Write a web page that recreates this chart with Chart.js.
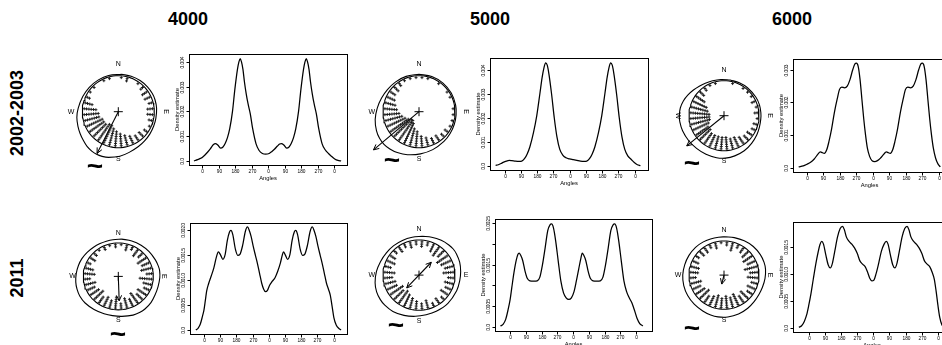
<!DOCTYPE html>
<html>
<head>
<meta charset="utf-8">
<script src="https://cdn.jsdelivr.net/npm/chart.js"></script>
<style>
  html, body { margin: 0; padding: 0; background: #fff; width: 942px; height: 345px; overflow: hidden; position: relative; }
  canvas { position: absolute; left: 0; top: 0; }
  .lbl { position: absolute; font-family: "Liberation Sans", Arial, sans-serif; font-weight: bold; color: #000; white-space: nowrap; font-size: 18px; line-height: 1; }
</style>
</head>
<body>
<div class="lbl" style="left:188px;top:19px;transform:translate(-50%,-50%)">4000</div>
<div class="lbl" style="left:490px;top:19px;transform:translate(-50%,-50%)">5000</div>
<div class="lbl" style="left:792px;top:19px;transform:translate(-50%,-50%)">6000</div>
<div class="lbl" style="left:17px;top:113px;transform:translate(-50%,-50%) rotate(-90deg)">2002-2003</div>
<div class="lbl" style="left:17px;top:278px;transform:translate(-50%,-50%) rotate(-90deg)">2011</div>
<script>
// ---------- data ----------
const xTickValues = [0, 90, 180, 270, 360, 450, 540, 630, 720];
const xTickLabels = ['0', '90', '180', '270', '0', '90', '180', '270', '0'];

// kernel density estimates over two turns: [angle (deg), density]
const dens0203_4000 = [[-45,0],[-25,0.00005],[-10,0.0001],[0,0.00014],[15,0.00024],[30,0.00036],[45,0.0005],[60,0.00065],[72,0.0007],[85,0.00064],[100,0.00052],[112,0.00055],[125,0.0007],[138,0.00095],[150,0.0013],[165,0.002],[178,0.0029],[192,0.0037],[200,0.004],[207,0.00413],[214,0.004],[222,0.0037],[230,0.0032],[240,0.0027],[250,0.0023],[262,0.0019],[275,0.0013],[293,0.0007],[310,0.00042],[328,0.0003],[345,0.00027],[365,0.0003],[380,0.00038],[395,0.00048],[410,0.0006],[422,0.00068],[432,0.0007],[445,0.00064],[460,0.00052],[472,0.00055],[485,0.0007],[498,0.00095],[510,0.0013],[525,0.002],[538,0.0029],[552,0.0037],[560,0.004],[567,0.00413],[574,0.004],[582,0.0037],[590,0.0032],[600,0.0027],[610,0.0023],[622,0.0019],[635,0.0013],[653,0.0007],[670,0.00045],[688,0.0003],[705,0.00018],[722,0.00008],[740,0.00002],[757,0]];
const dens0203_5000 = [[-50,0.00002],[-35,0.00005],[-20,0.0001],[-5,0.00016],[10,0.0002],[25,0.00023],[40,0.00022],[60,0.0002],[80,0.00019],[95,0.0002],[110,0.0003],[125,0.0005],[140,0.0008],[160,0.0014],[178,0.0021],[195,0.003],[208,0.0037],[218,0.0041],[227,0.0043],[236,0.0042],[246,0.0038],[260,0.003],[275,0.002],[290,0.0012],[305,0.0007],[322,0.00045],[340,0.00034],[360,0.00029],[380,0.00026],[400,0.00023],[420,0.0002],[440,0.00019],[455,0.0002],[470,0.0003],[485,0.0005],[500,0.0008],[520,0.0014],[538,0.0021],[555,0.003],[568,0.0037],[578,0.0041],[587,0.0043],[596,0.0042],[606,0.0038],[620,0.003],[635,0.002],[650,0.0012],[665,0.0007],[682,0.00042],[700,0.00028],[718,0.00014],[735,0.00005],[752,0.00001]];
const dens0203_6000 = [[-45,0.00003],[-20,0.00006],[0,0.00011],[20,0.00017],[40,0.00027],[60,0.00042],[73,0.00049],[85,0.00046],[95,0.00044],[108,0.00055],[120,0.0008],[135,0.0012],[150,0.0017],[165,0.0021],[178,0.0024],[190,0.00247],[205,0.00245],[220,0.0025],[235,0.0027],[250,0.003],[262,0.00318],[270,0.0032],[280,0.0031],[290,0.0027],[300,0.0021],[310,0.0015],[320,0.001],[330,0.0006],[342,0.00035],[355,0.00022],[370,0.00019],[385,0.00022],[400,0.00029],[420,0.00042],[433,0.00049],[445,0.00046],[455,0.00044],[468,0.00055],[480,0.0008],[495,0.0012],[510,0.0017],[525,0.0021],[538,0.0024],[550,0.00247],[565,0.00245],[580,0.0025],[595,0.0027],[610,0.003],[622,0.00318],[630,0.0032],[640,0.0031],[650,0.0027],[660,0.0021],[670,0.0015],[680,0.001],[690,0.0006],[702,0.0003],[715,0.00012],[728,0.00003]];
const dens2011_4000 = [[-45,0],[-32,0.00004],[-20,0.00012],[-8,0.00028],[0,0.0004],[8,0.0006],[15,0.00078],[25,0.00092],[40,0.00108],[55,0.00125],[68,0.00145],[80,0.00157],[92,0.00151],[105,0.00142],[118,0.00152],[130,0.0018],[142,0.00197],[150,0.002],[160,0.00192],[175,0.00162],[188,0.0015],[200,0.00152],[215,0.0017],[230,0.00198],[242,0.00207],[252,0.002],[262,0.00188],[274,0.00168],[286,0.0015],[297,0.00134],[309,0.00114],[321,0.00094],[332,0.00082],[342,0.00077],[352,0.00079],[365,0.0009],[380,0.00098],[395,0.00105],[410,0.00118],[425,0.00135],[435,0.0015],[442,0.00157],[452,0.00151],[465,0.00142],[478,0.00152],[490,0.0018],[502,0.00197],[510,0.002],[520,0.00192],[535,0.00162],[548,0.0015],[560,0.00152],[575,0.0017],[590,0.00198],[602,0.00207],[612,0.002],[622,0.00188],[634,0.00168],[646,0.0015],[657,0.00134],[669,0.00114],[681,0.00094],[692,0.00082],[702,0.0007],[712,0.00048],[722,0.00025],[735,0.0001],[750,0.00003],[762,0]];
const dens2011_5000 = [[-55,0.00002],[-40,0.00006],[-25,0.00018],[-12,0.0004],[0,0.00065],[10,0.00095],[22,0.0013],[35,0.0016],[45,0.00175],[52,0.00178],[60,0.00173],[72,0.0016],[85,0.00135],[98,0.00117],[113,0.00111],[135,0.0011],[155,0.00111],[170,0.0012],[185,0.0015],[200,0.0019],[215,0.00232],[228,0.00246],[237,0.00248],[248,0.00238],[260,0.00208],[275,0.00158],[290,0.0011],[305,0.00082],[320,0.0007],[335,0.00066],[350,0.0007],[365,0.00085],[378,0.0011],[392,0.0014],[404,0.00165],[412,0.00178],[420,0.00173],[432,0.0016],[445,0.00135],[458,0.00117],[473,0.00111],[495,0.0011],[515,0.00111],[530,0.0012],[545,0.0015],[560,0.0019],[575,0.00232],[588,0.00246],[597,0.00248],[608,0.00238],[620,0.00208],[635,0.00158],[650,0.0011],[665,0.00085],[680,0.0007],[695,0.00058],[710,0.0004],[725,0.0002],[740,0.00008],[758,0.00002]];
const dens2011_6000 = [[-55,0.00001],[-40,0.00004],[-25,0.00012],[-12,0.00024],[0,0.00042],[12,0.00063],[25,0.0009],[40,0.0012],[52,0.0014],[62,0.00154],[72,0.0016],[82,0.00155],[95,0.00135],[108,0.00117],[120,0.00111],[132,0.0012],[145,0.00142],[160,0.00168],[175,0.00184],[188,0.00188],[198,0.00182],[210,0.00168],[225,0.0016],[240,0.00155],[255,0.00148],[270,0.00138],[285,0.00124],[300,0.00118],[315,0.00113],[328,0.00103],[340,0.00092],[352,0.00087],[362,0.00088],[375,0.001],[390,0.0012],[405,0.00142],[420,0.00155],[432,0.0016],[442,0.00155],[455,0.00135],[468,0.00117],[480,0.00111],[492,0.0012],[505,0.00142],[520,0.00168],[535,0.00184],[548,0.00188],[558,0.00182],[570,0.00168],[585,0.0016],[600,0.00155],[615,0.00148],[630,0.00138],[645,0.00124],[660,0.00118],[675,0.00113],[688,0.00103],[700,0.0009],[710,0.00068],[720,0.00042],[730,0.0002],[742,0.00006],[755,0.00001]];

// y axis ticks and their printed labels
const yTicks0203_4000 = [0, 0.001, 0.002, 0.003, 0.004];
const yLabels0203_4000 = ['0.0', '0.001', '0.002', '0.003', '0.004'];
const yTicks0203_5000 = [0, 0.001, 0.002, 0.003, 0.004];
const yLabels0203_5000 = ['0.0', '0.001', '0.002', '0.003', '0.004'];
const yTicks0203_6000 = [0, 0.001, 0.002, 0.003];
const yLabels0203_6000 = ['0.0', '0.001', '0.002', '0.003'];
const yTicks2011_4000 = [0, 0.0005, 0.001, 0.0015, 0.002];
const yLabels2011_4000 = ['0.0', '0.0005', '0.0010', '0.0015', '0.0020'];
const yTicks2011_5000 = [0, 0.0005, 0.001, 0.0015, 0.002, 0.0025];
const yLabels2011_5000 = ['0.0', '0.0005', '', '0.0015', '', '0.0025'];
const yTicks2011_6000 = [0, 0.0005, 0.001, 0.0015];
const yLabels2011_6000 = ['0.0', '0.0005', '0.0010', '0.0015'];

// observations per 10-degree bearing bin (0-10, 10-20, ... 350-360), stacked inside the circle
const stack0203_4000 = [1,2,0,1,2,3,3,2,3,3,2,1,2,3,3,4,5,6,7,8,9,9,8,8,8,7,7,6,4,2,1,1,0,1,1,0];
const stack0203_5000 = [1,1,0,1,0,1,1,0,1,1,1,1,2,2,3,3,4,5,7,8,10,11,11,10,9,8,7,6,5,4,3,3,2,1,1,1];
const stack0203_6000 = [0,1,0,1,1,1,2,1,2,1,2,2,3,3,4,5,5,6,6,6,6,6,7,7,8,9,9,9,8,7,5,3,2,1,1,0];
const stack2011_4000 = [1,3,2,4,3,5,4,5,3,6,4,3,5,4,6,4,5,3,6,4,5,4,6,5,4,5,3,5,4,2,3,2,1,2,1,2];
const stack2011_5000 = [3,2,4,5,4,6,5,4,5,3,4,3,4,2,3,2,4,3,4,5,6,7,6,7,5,5,4,5,3,4,3,2,3,2,3,2];
const stack2011_6000 = [2,4,2,3,4,5,4,6,4,5,3,4,3,5,4,6,5,6,5,6,5,4,6,5,4,5,3,4,4,3,2,3,3,2,3,1];

// mean direction arrows (bearing in degrees, length in circle radii)
const arrowBearing = [207, 230, 231, 178, 43, 194];
const arrowLength = [1.3, 1.65, 1.37, 0.73, 0.5, 0.27];
const arrowTwoHeaded = [false, false, false, false, true, false];

// ---------- layout ----------
const canvasW = 1000, canvasH = 345;
const FONT = '"Liberation Sans", Arial, Helvetica, sans-serif';
const BIN_DEG = 10;

const panels = [
  { dens: dens0203_4000, yTicks: yTicks0203_4000, yLabels: yLabels0203_4000, stack: stack0203_4000,
    box: [189, 54, 347, 165], xRange: [-72, 789], yRange: [-0.000166, 0.00432],
    circ: { cx: 118.3, cy: 111.7, r: 36, k: 75, rotE: true, rotW: false }, tilde: [95, 166] },
  { dens: dens0203_5000, yTicks: yTicks0203_5000, yLabels: yLabels0203_5000, stack: stack0203_5000,
    box: [490, 58, 648, 170], xRange: [-81, 794], yRange: [-0.00017, 0.0045],
    circ: { cx: 419, cy: 111.7, r: 36, k: 72, rotE: true, rotW: false }, tilde: [392, 160] },
  { dens: dens0203_6000, yTicks: yTicks0203_6000, yLabels: yLabels0203_6000, stack: stack0203_6000,
    box: [793, 59, 946, 172], xRange: [-76, 759], yRange: [-0.000128, 0.00333],
    circ: { cx: 724, cy: 115.7, r: 35, k: 80, rotE: true, rotW: true }, tilde: [692, 163] },
  { dens: dens2011_4000, yTicks: yTicks2011_4000, yLabels: yLabels2011_4000, stack: stack2011_4000,
    box: [190, 223, 347, 334], xRange: [-77.5, 795], yRange: [-0.00008, 0.00215],
    circ: { cx: 118.3, cy: 279.3, r: 35, k: 110, rotE: true, rotW: false }, tilde: [118, 334] },
  { dens: dens2011_5000, yTicks: yTicks2011_5000, yLabels: yLabels2011_5000, stack: stack2011_5000,
    box: [495, 219, 652, 331], xRange: [-86, 810], yRange: [-0.0001, 0.0026],
    circ: { cx: 419, cy: 276.7, r: 36, k: 105, rotE: false, rotW: false }, tilde: [396, 325] },
  { dens: dens2011_6000, yTicks: yTicks2011_6000, yLabels: yLabels2011_6000, stack: stack2011_6000,
    box: [793, 222, 951, 332], xRange: [-88, 793], yRange: [-0.000076, 0.00196],
    circ: { cx: 724, cy: 276.7, r: 35, k: 115, rotE: true, rotW: false }, tilde: [692, 328] }
];

function makeCanvas() {
  const c = document.createElement('canvas');
  c.width = canvasW; c.height = canvasH;
  c.style.width = canvasW + 'px'; c.style.height = canvasH + 'px';
  document.body.appendChild(c);
  return c;
}

// frame, ticks and titles of a density panel, placed with the chart's scales
const densityAxes = {
  id: 'densityAxes',
  afterDraw(chart, args, o) {
    const { ctx, chartArea: a, scales: { x, y } } = chart;
    ctx.save();
    ctx.strokeStyle = '#000';
    ctx.fillStyle = '#000';
    ctx.lineWidth = 1;
    ctx.strokeRect(a.left + 0.5, a.top + 0.5, a.right - a.left, a.bottom - a.top);
    ctx.textAlign = 'center';
    ctx.textBaseline = 'middle';
    ctx.font = '4.8px ' + FONT;
    o.xTicks.forEach((v, i) => {
      const px = Math.round(x.getPixelForValue(v)) + 0.5;
      ctx.beginPath(); ctx.moveTo(px, a.bottom + 0.5); ctx.lineTo(px, a.bottom + 3.5); ctx.stroke();
      ctx.fillText(o.xLabels[i], px, a.bottom + 7);
    });
    o.yTicks.forEach((v, i) => {
      const py = Math.round(y.getPixelForValue(v)) + 0.5;
      ctx.beginPath(); ctx.moveTo(a.left - 2.5, py); ctx.lineTo(a.left + 0.5, py); ctx.stroke();
      if (o.yLabels[i]) {
        ctx.save(); ctx.translate(a.left - 6, py); ctx.rotate(-Math.PI / 2);
        ctx.fillText(o.yLabels[i], 0, 0); ctx.restore();
      }
    });
    ctx.font = '5.8px ' + FONT;
    ctx.save(); ctx.translate(a.left - 12, (a.top + a.bottom) / 2); ctx.rotate(-Math.PI / 2);
    ctx.fillText('Density estimate', 0, 0); ctx.restore();
    ctx.fillText('Angles', (a.left + a.right) / 2, a.bottom + 13);
    ctx.restore();
  }
};

function densityChart(p) {
  const [l, t, r, b] = p.box;
  new Chart(makeCanvas(), {
    type: 'scatter',
    data: { datasets: [{
      data: p.dens.map(([ang, v]) => ({ x: ang, y: v })),
      showLine: true, borderColor: '#000', borderWidth: 1.25, pointRadius: 0,
      cubicInterpolationMode: 'monotone', fill: false, clip: false
    }] },
    options: {
      responsive: false, animation: false, devicePixelRatio: 1,
      layout: { padding: { left: l, top: t, right: canvasW - r, bottom: canvasH - b } },
      scales: {
        x: { type: 'linear', display: false, min: p.xRange[0], max: p.xRange[1] },
        y: { type: 'linear', display: false, min: p.yRange[0], max: p.yRange[1] }
      },
      plugins: {
        legend: { display: false }, tooltip: { enabled: false },
        densityAxes: { xTicks: xTickValues, xLabels: xTickLabels, yTicks: p.yTicks, yLabels: p.yLabels }
      }
    },
    plugins: [densityAxes]
  });
}

// compass letters, arrow heads and the tilde mark of a circular panel
const compassDecor = {
  id: 'compassDecor',
  afterDatasetsDraw(chart, args, o) {
    const { ctx, scales: { x, y } } = chart;
    const P = (ux, uy) => [x.getPixelForValue(ux), y.getPixelForValue(uy)];
    ctx.save();
    ctx.strokeStyle = '#000'; ctx.fillStyle = '#000'; ctx.lineWidth = 1;
    const head = (from, to) => {
      const [fx, fy] = P(from.x, from.y), [tx, ty] = P(to.x, to.y);
      const ang = Math.atan2(ty - fy, tx - fx), hl = 6, hw = 0.45;
      ctx.beginPath();
      ctx.moveTo(tx - hl * Math.cos(ang - hw), ty - hl * Math.sin(ang - hw));
      ctx.lineTo(tx, ty);
      ctx.lineTo(tx - hl * Math.cos(ang + hw), ty - hl * Math.sin(ang + hw));
      ctx.stroke();
    };
    head(o.tail, o.tip);
    if (o.twoHeaded) head(o.tip, o.tail);

    ctx.font = '7px ' + FONT;
    ctx.textAlign = 'center'; ctx.textBaseline = 'middle';
    const d = 1.31;
    [['N', 0, d, false], ['S', 0, -d, false], ['W', -d, 0, o.rotW], ['E', d, 0, o.rotE]].forEach(([s, ux, uy, rot]) => {
      const [px, py] = P(ux, uy);
      ctx.save(); ctx.translate(px, py); if (rot) ctx.rotate(Math.PI / 2);
      ctx.fillText(s, 0, 0); ctx.restore();
    });

    ctx.font = 'bold 28px ' + FONT;
    ctx.textBaseline = 'alphabetic';
    ctx.fillText('~', o.tilde[0], o.tilde[1] + 9);
    ctx.restore();
  }
};

function compassChart(p, idx) {
  const c = p.circ, half = 66, R = half / c.r;
  const rad = Math.PI / 180;

  const circle = [];
  for (let a = 0; a <= 360; a += 4) circle.push({ x: Math.sin(a * rad), y: Math.cos(a * rad) });

  // density drawn around the circle from one full turn of the estimate
  const ring = p.dens.filter(([a]) => a >= 180 && a < 540)
    .map(([a, v]) => [a % 360, v]).sort((m, n) => m[0] - n[0]);
  const outline = ring.map(([a, v]) => {
    const rr = 1.02 + c.k * v;
    return { x: rr * Math.sin(a * rad), y: rr * Math.cos(a * rad) };
  });
  outline.push(outline[0]);

  const dots = [];
  p.stack.forEach((n, i) => {
    const b = (i + 0.5) * BIN_DEG * rad;
    for (let k = 0; k < n; k++) {
      const rr = 0.95 - k * 0.065;
      dots.push({ x: rr * Math.sin(b), y: rr * Math.cos(b) });
    }
  });

  const br = arrowBearing[idx] * rad, L = arrowLength[idx];
  const tip = { x: L * Math.sin(br), y: L * Math.cos(br) };
  const tail = arrowTwoHeaded[idx] ? { x: -tip.x, y: -tip.y } : { x: 0, y: 0 };

  const line = (data, extra) => Object.assign({ data, showLine: true, borderColor: '#000', borderWidth: 1.1,
    pointRadius: 0, fill: false, clip: false }, extra || {});

  new Chart(makeCanvas(), {
    type: 'scatter',
    data: { datasets: [
      line(circle, { tension: 0 }),
      line(outline, { tension: 0.35 }),
      { data: dots, showLine: false, pointStyle: 'cross', pointRadius: 1.5, borderWidth: 0.9,
        borderColor: '#111', backgroundColor: '#111', clip: false },
      { data: [{ x: 0, y: 0 }], showLine: false, pointStyle: 'cross', pointRadius: 4.5, borderWidth: 1,
        borderColor: '#000', clip: false },
      line([tail, tip], { tension: 0 })
    ] },
    options: {
      responsive: false, animation: false, devicePixelRatio: 1,
      layout: { padding: { left: c.cx - half, top: c.cy - half, right: canvasW - (c.cx + half), bottom: canvasH - (c.cy + half) } },
      scales: {
        x: { type: 'linear', display: false, min: -R, max: R },
        y: { type: 'linear', display: false, min: -R, max: R }
      },
      plugins: {
        legend: { display: false }, tooltip: { enabled: false },
        compassDecor: { tip, tail, twoHeaded: arrowTwoHeaded[idx], rotE: c.rotE, rotW: c.rotW, tilde: p.tilde }
      }
    },
    plugins: [compassDecor]
  });
}

panels.forEach((p, i) => { compassChart(p, i); densityChart(p); });
</script>
</body>
</html>
